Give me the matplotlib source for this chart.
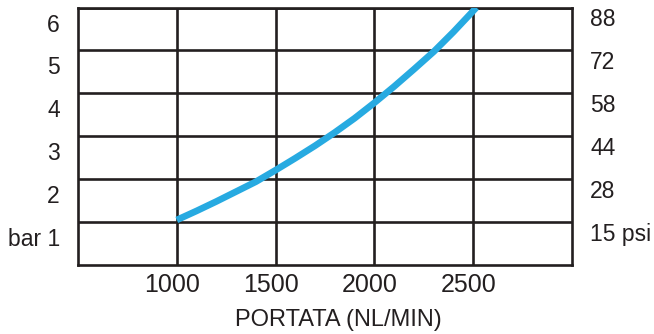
import numpy as np
import matplotlib
matplotlib.use('Agg')
import matplotlib.pyplot as plt
import matplotlib.transforms as mtransforms

plt.rcParams['font.family'] = ['Liberation Sans', 'DejaVu Sans']

# Curva portata / pressione
portata = [1000, 1100, 1200, 1300, 1400, 1500, 1600, 1700, 1800,
           1900, 2000, 2100, 2200, 2300, 2400, 2500, 2516]
pressione = [1.05, 1.26, 1.48, 1.71, 1.94, 2.21, 2.49, 2.78, 3.09,
             3.42, 3.78, 4.16, 4.56, 4.97, 5.43, 5.92, 6.0]

# Assi
x_ticks = [1000, 1500, 2000, 2500]
bar_ticks = [1, 2, 3, 4, 5, 6]
bar_labels = ['bar 1', '2', '3', '4', '5', '6']
psi_labels = ['15 psi', '28', '44', '58', '72', '88']

grid_color = '#231f20'
line_color = '#27aae1'

fig = plt.figure(figsize=(6.54, 3.34), dpi=100)
ax = fig.add_axes([78 / 654, (334 - 265) / 334, 494 / 654, 257.5 / 334])

ax.plot(portata, pressione, color=line_color, lw=4.8, solid_capstyle='butt', zorder=3)

ax.set_xlim(500, 3000)
ax.set_ylim(0, 6)
ax.set_xticks(x_ticks)
ax.set_xticklabels([str(v) for v in x_ticks], fontsize=18)
ax.set_yticks(bar_ticks)
ax.set_yticklabels(bar_labels, fontsize=16.5)
ax.tick_params(axis='both', length=0, colors='#231f20')
ax.tick_params(axis='x', pad=6)
ax.tick_params(axis='y', pad=13)
ax.grid(True, color=grid_color, lw=1.9)
for s in ax.spines.values():
    s.set_color(grid_color)
    s.set_linewidth(1.9)

# etichette spostate sotto le linee della griglia
for lab in ax.get_yticklabels():
    lab.set_transform(lab.get_transform() + mtransforms.ScaledTranslation(0, -0.15, fig.dpi_scale_trans))
for lab in ax.get_xticklabels():
    lab.set_transform(lab.get_transform() + mtransforms.ScaledTranslation(-0.05, 0, fig.dpi_scale_trans))

# scala psi a destra
ax2 = ax.twinx()
ax2.set_ylim(0, 6)
ax2.set_yticks(bar_ticks)
ax2.set_yticklabels(psi_labels, fontsize=16.5)
ax2.tick_params(axis='y', length=0, pad=13, colors='#231f20')
for s in ax2.spines.values():
    s.set_visible(False)
for lab in ax2.get_yticklabels():
    lab.set_transform(lab.get_transform() + mtransforms.ScaledTranslation(0, -0.095, fig.dpi_scale_trans))

ax.set_xlabel('PORTATA (NL/MIN)', fontsize=17, color='#231f20')
ax.xaxis.set_label_coords(0.527, -0.17)

fig.savefig('out.png', dpi=100)
